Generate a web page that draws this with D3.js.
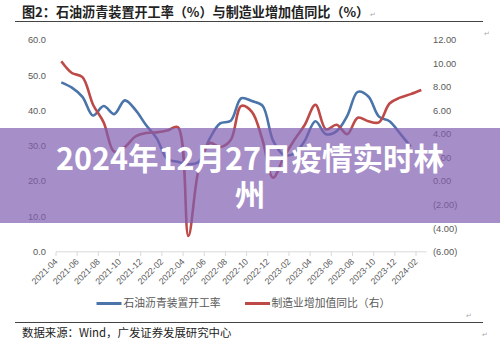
<!DOCTYPE html>
<html><head><meta charset="utf-8">
<script src="https://cdn.jsdelivr.net/npm/d3@7"></script>
<style>
html,body{margin:0;padding:0;background:#fff;}
svg{display:block;}
</style></head>
<body>
<svg id="chart" width="500" height="353"></svg>
<script>
const months = ["2021-04","2021-05","2021-06","2021-07","2021-08","2021-09","2021-10","2021-11","2021-12",
"2022-01","2022-02","2022-03","2022-04","2022-05","2022-06","2022-07","2022-08","2022-09","2022-10","2022-11","2022-12",
"2023-01","2023-02","2023-03","2023-04","2023-05","2023-06","2023-07","2023-08","2023-09","2023-10","2023-11","2023-12",
"2024-01","2024-02"];
// 石油沥青装置开工率 (left axis, %)
const asphaltRate = [48.0,46.5,43.9,38.6,41.3,39.0,42.9,40.2,35.9,32.2,26.3,25.5,24.8,25.5,32.0,36.4,37.1,43.5,42.7,41.4,31.5,
27.5,27.8,31.5,37.0,33.3,34.2,38.5,45.3,44.0,38.3,37.0,33.5,29.8];
// 制造业增加值同比 (right axis, %)
const mfgYoY = [10.2,9.2,8.85,6.5,5.0,2.5,2.9,3.8,4.1,4.15,4.3,4.6,-4.65,1.1,3.25,2.9,3.5,6.4,5.9,3.5,0.3,
2.0,3.5,4.8,6.5,4.4,4.8,4.0,5.4,5.1,5.0,6.6,7.1,7.4,7.75];
const leftTicks = [0,10,20,30,40,50,60];
const rightTicks = [-6,-4,-2,0,2,4,6,8,10,12];
const seriesNames = ["石油沥青装置开工率","制造业增加值同比（右）"];
const headerText = "图2：石油沥青装置开工率（%）与制造业增加值同比（%）";
const sourceText = "数据来源：Wind，广发证券发展研究中心";
const overlayLines = ["2024年12月27日疫情实时林","州"];

const svg = d3.select("#chart");
const blue = "#4a74aa", red = "#bd4a47", grey = "#595959";

// header
svg.append("text").attr("x",22).attr("y",17).attr("font-family","Noto Sans CJK SC").attr("font-weight","bold")
  .attr("font-size",13.1).attr("fill","#222").text(headerText);
svg.append("text").attr("x",370).attr("y",17).attr("font-size",7).attr("fill","#aaa").text("↵");
svg.append("line").attr("x1",15).attr("x2",483).attr("y1",21.5).attr("y2",21.5).attr("stroke","#444").attr("stroke-width",1);
svg.append("text").attr("x",484).attr("y",36).attr("font-size",7).attr("fill","#aaa").text("↵");

const x = d3.scaleBand().domain(months).range([56,426.6]).padding(0);
const yL = d3.scaleLinear().domain([0,60]).range([251.8,40]);
const yR = d3.scaleLinear().domain([-6,12]).range([251.8,40]);
const cx = m => x(m) + x.bandwidth()/2;

// left axis labels
svg.append("g").selectAll("text").data(leftTicks).join("text")
  .attr("x",46).attr("y",d=>yL(d)).attr("dy","0.35em").attr("text-anchor","end")
  .attr("font-family","Liberation Sans, Arial").attr("font-size",9.3).attr("fill",grey)
  .text(d=>d3.format(".1f")(d));
// right axis labels
svg.append("g").selectAll("text").data(rightTicks).join("text")
  .attr("x",433).attr("y",d=>yR(d)).attr("dy","0.35em").attr("text-anchor","start")
  .attr("font-family","Liberation Sans, Arial").attr("font-size",9.3).attr("fill",grey)
  .text(d=> d<0 ? "("+Math.abs(d).toFixed(2)+")" : d.toFixed(2));

// x axis
const xg = svg.append("g");
xg.append("line").attr("x1",56).attr("x2",426.6).attr("y1",251.8).attr("y2",251.8).attr("stroke","#d9d9d9").attr("stroke-width",1);
const labelMonths = months.filter((m,i)=>i%2===0);
xg.selectAll("line.tick").data(labelMonths).join("line").attr("class","tick")
  .attr("x1",d=>x(d)).attr("x2",d=>x(d)).attr("y1",251.8).attr("y2",256).attr("stroke","#d9d9d9");
xg.selectAll("text").data(labelMonths).join("text")
  .attr("transform",d=>`translate(${x(d)},${260}) rotate(-45)`)
  .attr("text-anchor","end").attr("dy","0.35em")
  .attr("font-family","Liberation Sans, Arial").attr("font-size",8.8).attr("fill",grey)
  .text(d=>d);

// lines
const lineL = d3.line().x((d,i)=>cx(months[i])).y(d=>yL(d)).curve(d3.curveCatmullRom.alpha(0.5));
const lineR = d3.line().x((d,i)=>cx(months[i])).y(d=>yR(d)).curve(d3.curveCatmullRom.alpha(0.5));
svg.append("path").datum(asphaltRate).attr("d",lineL).attr("fill","none").attr("stroke",blue).attr("stroke-width",2.6).attr("stroke-linejoin","round");
svg.append("path").datum(mfgYoY).attr("d",lineR).attr("fill","none").attr("stroke",red).attr("stroke-width",2.6).attr("stroke-linejoin","round");

// legend
const lg = svg.append("g");
[[96.5,blue,seriesNames[0],123.5],[245,red,seriesNames[1],271.5]].forEach(([lx,c,t,tx])=>{
  lg.append("line").attr("x1",lx).attr("x2",lx+25).attr("y1",303.5).attr("y2",303.5).attr("stroke",c).attr("stroke-width",3);
  lg.append("text").attr("x",tx).attr("y",303.5).attr("dy","0.35em").attr("font-family","Noto Sans CJK SC")
    .attr("font-size",10.8).attr("fill",grey).text(t);
});

// bottom rule & source
svg.append("text").attr("x",466).attr("y",318).attr("font-size",7).attr("fill","#aaa").text("↵");
svg.append("line").attr("x1",15).attr("x2",483).attr("y1",322.5).attr("y2",322.5).attr("stroke","#444").attr("stroke-width",1);
svg.append("text").attr("x",22).attr("y",333.5).attr("dy","0.35em").attr("font-family","Noto Sans CJK SC")
  .attr("font-size",11.4).attr("fill","#222").text(sourceText);
svg.append("text").attr("x",482).attr("y",337).attr("font-size",7).attr("fill","#aaa").text("↵");

// overlay band with title
svg.append("rect").attr("x",0).attr("y",128).attr("width",500).attr("height",95).attr("fill","rgb(128,94,176)").attr("fill-opacity",0.7);
const ot = svg.append("text").attr("text-anchor","middle").attr("font-family","Noto Sans CJK SC").attr("font-weight","bold")
  .attr("font-size",30.5).attr("fill","#fff");
overlayLines.forEach((l,i)=>{
  ot.append("tspan").attr("x",250).attr("y",170 + i*36).text(l);
});
</script>
</body></html>
